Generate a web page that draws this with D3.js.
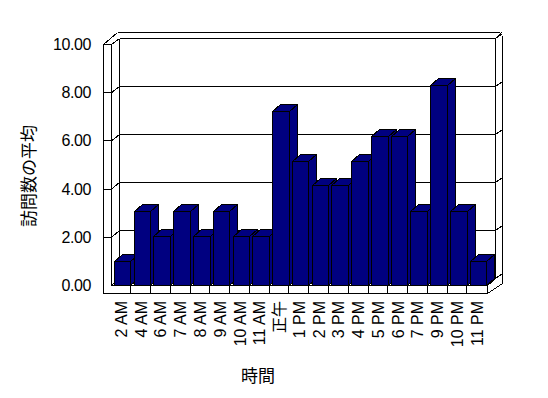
<!DOCTYPE html>
<html><head><meta charset="utf-8">
<script src="https://cdn.jsdelivr.net/npm/d3@7"></script>
<style>
html,body{margin:0;padding:0;background:#fff;}
svg{display:block;}
text{font-family:"Liberation Sans","Noto Sans CJK JP",sans-serif;fill:#000;}
</style></head>
<body>
<svg id="chart" width="548" height="398"></svg>
<script>
const categories = ["2 AM","4 AM","6 AM","7 AM","8 AM","9 AM","10 AM","11 AM","正午","1 PM","2 PM","3 PM","4 PM","5 PM","6 PM","7 PM","9 PM","10 PM","11 PM"];
const values = [1,3,2,3,2,3,2,2,7,5,4,4,5,6,6,3,8,3,1];
const yTicks = [0,2,4,6,8,10];
const yTitle = "訪問数の平均";
const xTitle = "時間";

const svg = d3.select("#chart");
const g = svg.append("g").attr("shape-rendering","crispEdges");

// geometry
const L0 = 103.5, L1 = 111.5, L2 = 119.5;
const R0 = 487.5, R1 = 495.5, R2 = 502.5;
const yFront0 = 285.5, yFloorBot = 293.5;
const yF = d3.scaleLinear().domain([0,10]).range([285.5,44.5]);
const yB = d3.scaleLinear().domain([0,10]).range([278.5,38.5]);
const yBar = d3.scaleLinear().domain([0,10]).range([285.5,35.5]);
const x = d3.scaleBand().domain(categories).range([111.5,487.2]);
const bw = x.bandwidth();
const dX = 8, dY = -7;

function line(x1,y1,x2,y2){
  g.append("line").attr("x1",x1).attr("y1",y1).attr("x2",x2).attr("y2",y2)
   .attr("stroke","#000").attr("stroke-width",1);
}
function poly(pts, fill){
  g.append("polygon").attr("points", pts.map(p=>p.join(",")).join(" "))
   .attr("fill", fill).attr("stroke","#000").attr("stroke-width",1);
}

// walls
line(L0, yF(10), L0, yFloorBot);
line(L0, yF(10), L1, yF(10));
line(L1, yF(10), L1, yFront0);
line(L2, yB(10), L2, yB(0));
line(L0, yF(10), 117.5, 32.5);
line(L1, yF(10), L2, yB(10));
line(117.5, 32.5, 499.5, 32.5);
line(499.5, 32.5, R2, 35.5);
line(R2, 35.5, R2, 283.5);
line(L2, yB(10), R1, yB(10));
line(R1, yB(10), 501.5, 32.5);
line(R1, yB(10), R1, yB(0));
line(R1, yB(0), R0, yFront0);
line(R2, 283.5, R0, yFloorBot);

// gridlines
yTicks.forEach(v=>{
  if (v !== 0) line(L0, yF(v), L1, yF(v));
  line(L1, yF(v), L2, yB(v));
  line(L2, yB(v), R1, yB(v));
  line(R1, yB(v), R2, yB(v)-5);
});

// floor front face
line(L1, yFront0, R0, yFront0);
line(L0, yFloorBot, R0, yFloorBot);
line(R0, yFront0, R0, yFloorBot);
categories.forEach((c,i)=>{ if(i>0) line(Math.round(x(c))-0.5, yFront0, Math.round(x(c))-0.5, yFloorBot); });

// bars
categories.forEach((c,i)=>{
  const x0 = Math.round(x(c) + bw*0.12) + 0.5;
  const x1 = Math.round(x(c) + bw*0.96) + 0.5;
  const yt = Math.round(yBar(values[i])) + 0.5;
  const yb = yFront0;
  poly([[x1,yt],[x1+dX,yt+dY],[x1+dX,yb+dY],[x1,yb]], "#000080");
  poly([[x0,yt],[x0+dX,yt+dY],[x1+dX,yt+dY],[x1,yt]], "#000080");
  poly([[x0,yt],[x1,yt],[x1,yb],[x0,yb]], "#000080");
});

// y tick labels
svg.append("g").selectAll("text").data(yTicks).join("text")
  .attr("x", 91).attr("y", d=>yF(d)).attr("text-anchor","end")
  .attr("dominant-baseline","central").attr("font-size",16)
  .attr("letter-spacing","-0.4")
  .text(d=>d.toFixed(2));

// y title
svg.append("text").attr("transform","translate(29,176) rotate(-90)")
  .attr("text-anchor","middle").attr("dominant-baseline","central")
  .attr("font-size",17).text(yTitle);

// x labels
svg.append("g").selectAll("text").data(categories).join("text")
  .attr("transform", d=>`translate(${x(d)+bw/2},301) rotate(-90)`)
  .attr("text-anchor","end").attr("dominant-baseline","central")
  .attr("font-size",16).text(d=>d);

// x title
svg.append("text").attr("x",258).attr("y",376).attr("text-anchor","middle")
  .attr("dominant-baseline","central").attr("font-size",17).text(xTitle);
</script>
</body></html>
